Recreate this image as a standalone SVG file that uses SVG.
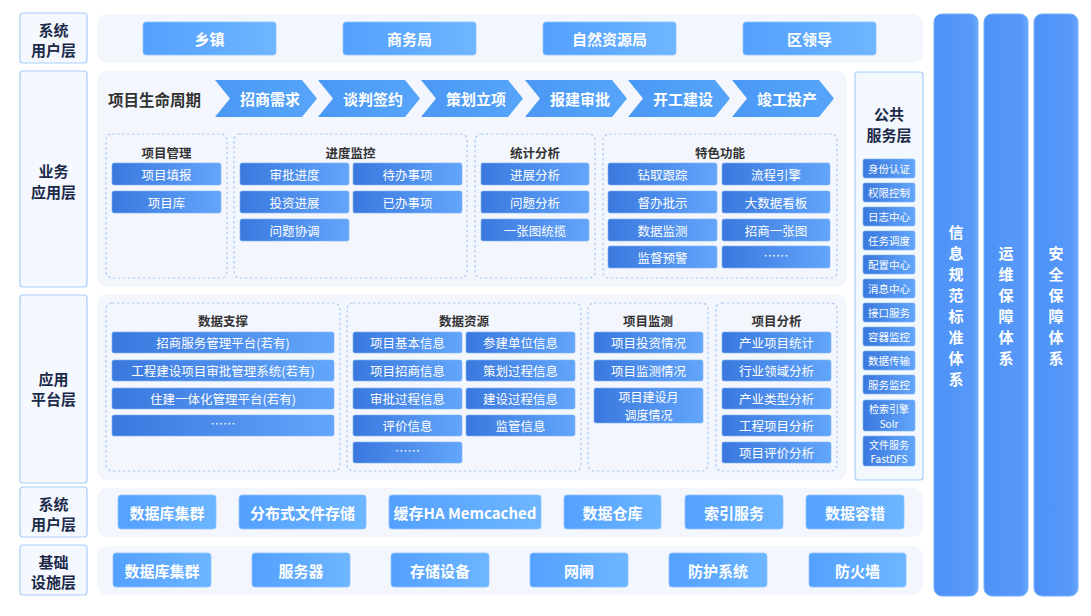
<svg xmlns="http://www.w3.org/2000/svg" width="1091" height="616" viewBox="0 0 1091 616">
<defs>
<linearGradient id="gTop" x1="0" y1="0" x2="1" y2="0"><stop offset="0" stop-color="#53A0FF"/><stop offset="1" stop-color="#6DB6FF"/></linearGradient>
<linearGradient id="gIn" x1="0" y1="0" x2="1" y2="0"><stop offset="0" stop-color="#3A78DE"/><stop offset="1" stop-color="#62A6FB"/></linearGradient>
<linearGradient id="gChev" x1="0" y1="0" x2="1" y2="0"><stop offset="0" stop-color="#4A98F5"/><stop offset="1" stop-color="#56A5FA"/></linearGradient>
<linearGradient id="gCol" x1="0" y1="0" x2="1" y2="0"><stop offset="0" stop-color="#4F92F7"/><stop offset="0.85" stop-color="#5699F9"/><stop offset="1" stop-color="#6AA8FC"/></linearGradient>
<style>
text{font-family:"Noto Sans CJK SC","Liberation Sans",sans-serif;dominant-baseline:central;text-anchor:middle}
.band{fill:#F3F7FD}
.lbl{fill:#F5F9FF;stroke:#A9CDF7;stroke-width:1.2}
.lt{font-size:15px;font-weight:700;fill:#1C2A4A}
.tb{fill:url(#gTop);stroke:#8DC3FF;stroke-width:0.8}
.tt{font-size:15px;font-weight:700;fill:#fff}
.chev{fill:url(#gChev)}
.ib{fill:url(#gIn);stroke:#7FB2F5;stroke-width:0.6}
.it{font-size:12.5px;fill:#fff}
.it2{font-size:12px;fill:#fff}
.grp{fill:none;stroke:#A9C9F3;stroke-width:1.2;stroke-dasharray:2.5 2.5}
.gt{font-size:12.5px;font-weight:700;fill:#333}
.ps{font-size:10.5px;fill:#fff}
.ps2{font-size:10px;fill:#fff}
.col{fill:url(#gCol);stroke:#76AEFB;stroke-width:1}
.ct{font-size:15px;font-weight:700;fill:#fff}
</style>
</defs>
<rect width="1091" height="616" fill="#FFFFFF"/>

<!-- bands -->
<g id="bands">
<rect class="band" x="97" y="14" width="826" height="49" rx="10"/>
<rect class="band" x="97" y="71" width="750" height="216" rx="10"/>
<rect class="band" x="97" y="294" width="750" height="186" rx="10"/>
<rect class="band" x="97" y="488" width="826" height="49" rx="10"/>
<rect class="band" x="97" y="546" width="826" height="49" rx="10"/>
</g>

<!-- layer labels -->
<g id="label-user1"><rect class="lbl" x="20" y="13" width="67" height="50" rx="3"/><text class="lt" x="53.5" y="29">系统</text><text class="lt" x="53.5" y="49">用户层</text></g>
<g id="label-biz"><rect class="lbl" x="20" y="71" width="67" height="216" rx="3"/><text class="lt" x="53.5" y="170">业务</text><text class="lt" x="53.5" y="191">应用层</text></g>
<g id="label-plat"><rect class="lbl" x="20" y="295" width="67" height="188" rx="3"/><text class="lt" x="53.5" y="378">应用</text><text class="lt" x="53.5" y="398">平台层</text></g>
<g id="label-user2"><rect class="lbl" x="20" y="487" width="67" height="50" rx="3"/><text class="lt" x="53.5" y="503">系统</text><text class="lt" x="53.5" y="523">用户层</text></g>
<g id="label-infra"><rect class="lbl" x="20" y="545" width="67" height="50" rx="3"/><text class="lt" x="53.5" y="561">基础</text><text class="lt" x="53.5" y="581">设施层</text></g>

<!-- top users -->
<g id="u-xiangzhen"><rect class="tb" x="143" y="22" width="133" height="33" rx="3"/><text class="tt" x="209.5" y="38.5">乡镇</text></g>
<g id="u-shangwu"><rect class="tb" x="343" y="22" width="133" height="33" rx="3"/><text class="tt" x="409.5" y="38.5">商务局</text></g>
<g id="u-ziran"><rect class="tb" x="543" y="22" width="133" height="33" rx="3"/><text class="tt" x="609.5" y="38.5">自然资源局</text></g>
<g id="u-quling"><rect class="tb" x="743" y="22" width="133" height="33" rx="3"/><text class="tt" x="809.5" y="38.5">区领导</text></g>

<!-- lifecycle -->
<g id="lifecycle">
<text x="154.5" y="98.5" style="font-size:15.5px;font-weight:700;fill:#333">项目生命周期</text>
<g id="chev1"><polygon class="chev" points="215,80 302,80 317,98.5 302,117 215,117 230,98.5"/><text class="tt" x="270" y="98.5">招商需求</text></g>
<g id="chev2"><polygon class="chev" points="318,80 405,80 420,98.5 405,117 318,117 333,98.5"/><text class="tt" x="373" y="98.5">谈判签约</text></g>
<g id="chev3"><polygon class="chev" points="421,80 508,80 523,98.5 508,117 421,117 436,98.5"/><text class="tt" x="476" y="98.5">策划立项</text></g>
<g id="chev4"><polygon class="chev" points="525,80 612,80 627,98.5 612,117 525,117 540,98.5"/><text class="tt" x="580" y="98.5">报建审批</text></g>
<g id="chev5"><polygon class="chev" points="628,80 715,80 730,98.5 715,117 628,117 643,98.5"/><text class="tt" x="683" y="98.5">开工建设</text></g>
<g id="chev6"><polygon class="chev" points="732,80 819,80 834,98.5 819,117 732,117 747,98.5"/><text class="tt" x="787" y="98.5">竣工投产</text></g>
</g>

<!-- business groups -->
<g id="g-xmgl"><rect class="grp" x="106" y="134" width="121" height="144" rx="6"/><text class="gt" x="166.5" y="152">项目管理</text>
<rect class="ib" x="112" y="163" width="109" height="22" rx="2"/><text class="it" x="166.5" y="174">项目填报</text>
<rect class="ib" x="112" y="191" width="109" height="22" rx="2"/><text class="it" x="166.5" y="202">项目库</text>
</g>
<g id="g-jdjk"><rect class="grp" x="234" y="134" width="233" height="144" rx="6"/><text class="gt" x="350.5" y="152">进度监控</text>
<rect class="ib" x="240" y="163" width="109" height="22" rx="2"/><text class="it" x="294.5" y="174">审批进度</text>
<rect class="ib" x="353" y="163" width="109" height="22" rx="2"/><text class="it" x="407.5" y="174">待办事项</text>
<rect class="ib" x="240" y="191" width="109" height="22" rx="2"/><text class="it" x="294.5" y="202">投资进展</text>
<rect class="ib" x="353" y="191" width="109" height="22" rx="2"/><text class="it" x="407.5" y="202">已办事项</text>
<rect class="ib" x="240" y="219" width="109" height="22" rx="2"/><text class="it" x="294.5" y="230">问题协调</text>
</g>
<g id="g-tjfx"><rect class="grp" x="475" y="134" width="120" height="144" rx="6"/><text class="gt" x="535" y="152">统计分析</text>
<rect class="ib" x="481" y="163" width="108" height="22" rx="2"/><text class="it" x="535" y="174">进展分析</text>
<rect class="ib" x="481" y="191" width="108" height="22" rx="2"/><text class="it" x="535" y="202">问题分析</text>
<rect class="ib" x="481" y="219" width="108" height="22" rx="2"/><text class="it" x="535" y="230">一张图统揽</text>
</g>
<g id="g-tsgn"><rect class="grp" x="603" y="134" width="234" height="144" rx="6"/><text class="gt" x="720" y="152">特色功能</text>
<rect class="ib" x="608" y="163" width="109" height="22" rx="2"/><text class="it" x="662.5" y="174">钻取跟踪</text>
<rect class="ib" x="722" y="163" width="108" height="22" rx="2"/><text class="it" x="776" y="174">流程引擎</text>
<rect class="ib" x="608" y="191" width="109" height="22" rx="2"/><text class="it" x="662.5" y="202">督办批示</text>
<rect class="ib" x="722" y="191" width="108" height="22" rx="2"/><text class="it" x="776" y="202">大数据看板</text>
<rect class="ib" x="608" y="219" width="109" height="22" rx="2"/><text class="it" x="662.5" y="230">数据监测</text>
<rect class="ib" x="722" y="219" width="108" height="22" rx="2"/><text class="it" x="776" y="230">招商一张图</text>
<rect class="ib" x="608" y="246" width="109" height="22" rx="2"/><text class="it" x="662.5" y="257">监督预警</text>
<rect class="ib" x="722" y="246" width="108" height="22" rx="2"/><text class="it" x="776" y="255">……</text>
</g>

<!-- platform groups -->
<g id="g-sjzc"><rect class="grp" x="106" y="303" width="234" height="168" rx="6"/><text class="gt" x="223" y="320">数据支撑</text>
<rect class="ib" x="112" y="332" width="222" height="21" rx="2"/><text class="it" x="223" y="342.5">招商服务管理平台(若有)</text>
<rect class="ib" x="112" y="360" width="222" height="21" rx="2"/><text class="it" x="223" y="370.5">工程建设项目审批管理系统(若有)</text>
<rect class="ib" x="112" y="388" width="222" height="21" rx="2"/><text class="it" x="223" y="398.5">住建一体化管理平台(若有)</text>
<rect class="ib" x="112" y="415" width="222" height="21" rx="2"/><text class="it" x="223" y="423.5">……</text>
</g>
<g id="g-sjzy"><rect class="grp" x="347" y="303" width="234" height="168" rx="6"/><text class="gt" x="464" y="320">数据资源</text>
<rect class="ib" x="353" y="332" width="109" height="21" rx="2"/><text class="it" x="407.5" y="342.5">项目基本信息</text>
<rect class="ib" x="466" y="332" width="109" height="21" rx="2"/><text class="it" x="520.5" y="342.5">参建单位信息</text>
<rect class="ib" x="353" y="360" width="109" height="21" rx="2"/><text class="it" x="407.5" y="370.5">项目招商信息</text>
<rect class="ib" x="466" y="360" width="109" height="21" rx="2"/><text class="it" x="520.5" y="370.5">策划过程信息</text>
<rect class="ib" x="353" y="388" width="109" height="21" rx="2"/><text class="it" x="407.5" y="398.5">审批过程信息</text>
<rect class="ib" x="466" y="388" width="109" height="21" rx="2"/><text class="it" x="520.5" y="398.5">建设过程信息</text>
<rect class="ib" x="353" y="415" width="109" height="21" rx="2"/><text class="it" x="407.5" y="425.5">评价信息</text>
<rect class="ib" x="466" y="415" width="109" height="21" rx="2"/><text class="it" x="520.5" y="425.5">监管信息</text>
<rect class="ib" x="353" y="442" width="109" height="21" rx="2"/><text class="it" x="407.5" y="450.5">……</text>
</g>
<g id="g-xmjc"><rect class="grp" x="588" y="303" width="120" height="168" rx="6"/><text class="gt" x="648" y="320">项目监测</text>
<rect class="ib" x="594" y="332" width="109" height="21" rx="2"/><text class="it" x="648.5" y="342.5">项目投资情况</text>
<rect class="ib" x="594" y="360" width="109" height="21" rx="2"/><text class="it" x="648.5" y="370.5">项目监测情况</text>
<rect class="ib" x="594" y="388" width="109" height="35" rx="2"/><text class="it2" x="648.5" y="396.5">项目建设月</text><text class="it2" x="648.5" y="414">调度情况</text>
</g>
<g id="g-xmfx"><rect class="grp" x="716" y="303" width="121" height="168" rx="6"/><text class="gt" x="776.5" y="320">项目分析</text>
<rect class="ib" x="722" y="332" width="109" height="21" rx="2"/><text class="it" x="776.5" y="342.5">产业项目统计</text>
<rect class="ib" x="722" y="360" width="109" height="21" rx="2"/><text class="it" x="776.5" y="370.5">行业领域分析</text>
<rect class="ib" x="722" y="388" width="109" height="21" rx="2"/><text class="it" x="776.5" y="398.5">产业类型分析</text>
<rect class="ib" x="722" y="415" width="109" height="21" rx="2"/><text class="it" x="776.5" y="425.5">工程项目分析</text>
<rect class="ib" x="722" y="442" width="109" height="21" rx="2"/><text class="it" x="776.5" y="452.5">项目评价分析</text>
</g>

<!-- public service layer -->
<g id="public-service">
<rect x="855" y="72" width="68" height="408" rx="3" fill="#F3F8FF" stroke="#A9CDF7" stroke-width="1.2"/>
<text class="lt" x="889" y="113">公共</text><text class="lt" x="889" y="134">服务层</text>
<rect class="ib" x="863" y="159" width="52" height="19" rx="2"/><text class="ps" x="889" y="168.5">身份认证</text>
<rect class="ib" x="863" y="183" width="52" height="19" rx="2"/><text class="ps" x="889" y="192.5">权限控制</text>
<rect class="ib" x="863" y="207" width="52" height="19" rx="2"/><text class="ps" x="889" y="216.5">日志中心</text>
<rect class="ib" x="863" y="231" width="52" height="19" rx="2"/><text class="ps" x="889" y="240.5">任务调度</text>
<rect class="ib" x="863" y="255" width="52" height="19" rx="2"/><text class="ps" x="889" y="264.5">配置中心</text>
<rect class="ib" x="863" y="279" width="52" height="19" rx="2"/><text class="ps" x="889" y="288.5">消息中心</text>
<rect class="ib" x="863" y="303" width="52" height="19" rx="2"/><text class="ps" x="889" y="312.5">接口服务</text>
<rect class="ib" x="863" y="327" width="52" height="19" rx="2"/><text class="ps" x="889" y="336.5">容器监控</text>
<rect class="ib" x="863" y="351" width="52" height="19" rx="2"/><text class="ps" x="889" y="360.5">数据传输</text>
<rect class="ib" x="863" y="375" width="52" height="19" rx="2"/><text class="ps" x="889" y="384.5">服务监控</text>
<rect class="ib" x="863" y="400" width="52" height="31" rx="2"/><text class="ps2" x="889" y="408.5">检索引擎</text><text class="ps2" x="889" y="423">Solr</text>
<rect class="ib" x="863" y="436" width="52" height="30" rx="2"/><text class="ps2" x="889" y="444">文件服务</text><text class="ps2" x="889" y="458.5">FastDFS</text>
</g>

<!-- vertical systems -->
<g id="col-xxgf"><rect class="col" x="934" y="14" width="44" height="582" rx="8"/>
<text class="ct" x="956" y="231.5">信</text><text class="ct" x="956" y="252.5">息</text><text class="ct" x="956" y="273.5">规</text><text class="ct" x="956" y="294.5">范</text><text class="ct" x="956" y="315.5">标</text><text class="ct" x="956" y="336.5">准</text><text class="ct" x="956" y="357.5">体</text><text class="ct" x="956" y="378.5">系</text>
</g>
<g id="col-ywbz"><rect class="col" x="984" y="14" width="44" height="582" rx="8"/>
<text class="ct" x="1006" y="252.5">运</text><text class="ct" x="1006" y="273.5">维</text><text class="ct" x="1006" y="294.5">保</text><text class="ct" x="1006" y="315.5">障</text><text class="ct" x="1006" y="336.5">体</text><text class="ct" x="1006" y="357.5">系</text>
</g>
<g id="col-aqbz"><rect class="col" x="1034" y="14" width="44" height="582" rx="8"/>
<text class="ct" x="1056" y="252.5">安</text><text class="ct" x="1056" y="273.5">全</text><text class="ct" x="1056" y="294.5">保</text><text class="ct" x="1056" y="315.5">障</text><text class="ct" x="1056" y="336.5">体</text><text class="ct" x="1056" y="357.5">系</text>
</g>

<!-- system user layer 2 -->
<g id="s-sjkjq"><rect class="tb" x="118" y="495" width="98" height="34" rx="3"/><text class="tt" x="167" y="512">数据库集群</text></g>
<g id="s-fbs"><rect class="tb" x="239" y="495" width="127" height="34" rx="3"/><text class="tt" x="302.5" y="512">分布式文件存储</text></g>
<g id="s-hc"><rect class="tb" x="389" y="495" width="152" height="34" rx="3"/><text class="tt" x="465" y="512">缓存HA Memcached</text></g>
<g id="s-sjck"><rect class="tb" x="564" y="495" width="97" height="34" rx="3"/><text class="tt" x="612.5" y="512">数据仓库</text></g>
<g id="s-syfw"><rect class="tb" x="685" y="495" width="98" height="34" rx="3"/><text class="tt" x="734" y="512">索引服务</text></g>
<g id="s-sjrc"><rect class="tb" x="806" y="495" width="98" height="34" rx="3"/><text class="tt" x="855" y="512">数据容错</text></g>

<!-- infrastructure -->
<g id="i-sjkjq"><rect class="tb" x="113" y="553" width="98" height="34" rx="3"/><text class="tt" x="162" y="570">数据库集群</text></g>
<g id="i-fwq"><rect class="tb" x="252" y="553" width="98" height="34" rx="3"/><text class="tt" x="301" y="570">服务器</text></g>
<g id="i-ccsb"><rect class="tb" x="391" y="553" width="98" height="34" rx="3"/><text class="tt" x="440" y="570">存储设备</text></g>
<g id="i-wz"><rect class="tb" x="530" y="553" width="98" height="34" rx="3"/><text class="tt" x="579" y="570">网闸</text></g>
<g id="i-fhxt"><rect class="tb" x="669" y="553" width="98" height="34" rx="3"/><text class="tt" x="718" y="570">防护系统</text></g>
<g id="i-fhq"><rect class="tb" x="809" y="553" width="97" height="34" rx="3"/><text class="tt" x="857.5" y="570">防火墙</text></g>

<g id="connectors"/>
</svg>
